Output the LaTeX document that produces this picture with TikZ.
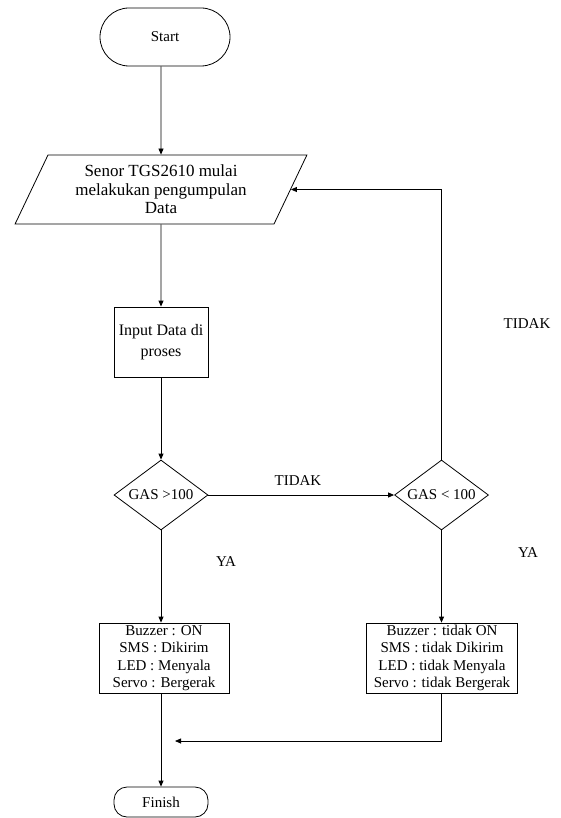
\documentclass[tikz,border=0pt]{standalone}
\usepackage{fontspec}
\setmainfont{Liberation Serif}
\newfontfamily\flowfont{Liberation Serif}
\usetikzlibrary{shapes.geometric, arrows.meta, positioning}

\begin{document}
\begin{tikzpicture}[
        x=1pt, y=-1pt,
        every node/.style={font=\flowfont\fontsize{15}{17.5}\selectfont},
        term/.style={rectangle, draw, line width=0.8pt, align=center},
        io/.style={trapezium, trapezium left angle=63, trapezium right angle=117, trapezium stretches=true, draw, line width=0.8pt, minimum width=292pt, minimum height=69pt, inner sep=0pt, align=center, font=\flowfont\fontsize{17}{18.5}\selectfont},
        proc/.style={rectangle, draw, line width=0.8pt, inner sep=0pt, align=center, minimum height=70pt},
        decide/.style={diamond, draw, line width=0.8pt, aspect=1.34, inner sep=0pt, minimum width=94pt, minimum height=70pt},
        arr/.style={-{Triangle[length=6pt, width=5pt]}, line width=0.8pt}
      ]
        \useasboundingbox (0,0) rectangle (560,818);

        \node[term, minimum width=130pt, minimum height=58pt, rounded corners=29pt] (start) at (165,37) {Start};
        \node[io] (sensor) at (161,189.5) {Senor TGS2610 mulai\\melakukan pengumpulan\\Data};
        \node[proc, minimum width=94pt, font=\flowfont\fontsize{16}{21}\selectfont] (input) at (161,342) {Input Data di\\proses};
        \node[decide] (gas1) at (161,495) {GAS \symbol{62}100};
        \node[decide] (gas2) at (441.5,495) {GAS \symbol{60} 100};
        \node[proc, minimum width=130pt] (on) at (164,658) {Buzzer : ON\\SMS : Dikirim\\LED : Menyala\\Servo : Bergerak};
        \node[proc, minimum width=151pt] (off) at (442,658) {Buzzer : tidak ON\\SMS : tidak Dikirim\\LED : tidak Menyala\\Servo : tidak Bergerak};
        \node[term, minimum width=94pt, minimum height=30pt, rounded corners=13pt] (finish) at (161,802) {Finish};

        % labels
        \node (tidak1) at (298,481) {TIDAK};
        \node (tidak2) at (527,324) {TIDAK};
        \node (ya1) at (226,562) {YA};
        \node (ya2) at (528,553) {YA};

        \coordinate (merge) at (175,741);

        \draw[arr] (input.north |- start.south) -- (sensor.north);
        \draw[arr] (sensor.south) -- (input.north);
        \draw[arr] (input.south) -- (gas1.north);
        \draw[arr] (gas1.east) -- (gas2.west);
        \draw[arr] (gas2.north) |- (sensor.east);
        \draw[arr] (gas1.south) -- (gas1.south |- on.north);
        \draw[arr] (gas2.south) -- (gas2.south |- off.north);
        \draw[arr] (gas1.south |- on.south) -- (finish.north);
        \draw[arr] (off.south -| gas2.south) |- (merge);
      \end{tikzpicture}
\end{document}
